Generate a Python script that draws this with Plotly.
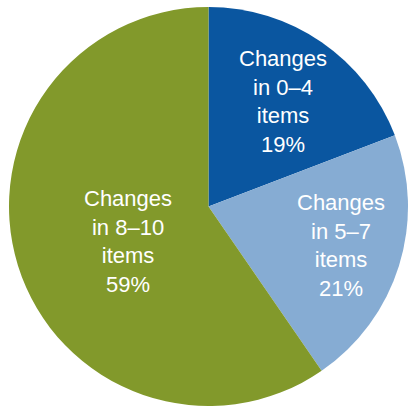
import math
import plotly.graph_objects as go

# Share of respondents by number of changed items
categories = ["Changes in 0–4 items", "Changes in 5–7 items", "Changes in 8–10 items"]
label_lines = ["Changes<br>in 0–4<br>items", "Changes<br>in 5–7<br>items", "Changes<br>in 8–10<br>items"]
shares = [19, 21, 59]
colors = ["#0A56A0", "#86ACD3", "#82992B"]

# Figure geometry (pixels)
W, H = 409, 406
cx, cy, r = 208.5, 206.5, 199.5

# Label placement: fraction of the radius and angular nudge (degrees) per slice
label_radius = [0.648, 0.695, 0.44]
label_nudge = [0.8, -0.8, -6.5]

fig = go.Figure(
    go.Pie(
        labels=categories,
        values=shares,
        textinfo="none",
        sort=False,
        direction="clockwise",
        rotation=0,
        marker=dict(colors=colors, line=dict(width=0)),
        hoverinfo="label+percent",
        showlegend=False,
        domain=dict(
            x=[(cx - r) / W, (cx + r) / W],
            y=[1 - (cy + r) / H, 1 - (cy - r) / H],
        ),
    )
)

# Slice labels, placed along each slice's mid-angle (clockwise from 12 o'clock)
total = sum(shares)
start = 0.0
for lab, v, frac, nudge in zip(label_lines, shares, label_radius, label_nudge):
    mid = (start + v / 2) / total * 360 + nudge
    start += v
    d = frac * r
    px = cx + d * math.sin(math.radians(mid))
    py = cy - d * math.cos(math.radians(mid))
    fig.add_annotation(
        x=px / W,
        y=1 - py / H,
        xref="paper",
        yref="paper",
        xanchor="center",
        yanchor="middle",
        text=f"{lab}<br>{v}%",
        showarrow=False,
        align="center",
        font=dict(family="Liberation Sans, Arial, sans-serif", size=22, color="white"),
    )

fig.update_layout(
    width=W,
    height=H,
    margin=dict(l=0, r=0, t=0, b=0),
    paper_bgcolor="white",
    plot_bgcolor="white",
)

fig.write_html("out.html", config={"displayModeBar": False})
